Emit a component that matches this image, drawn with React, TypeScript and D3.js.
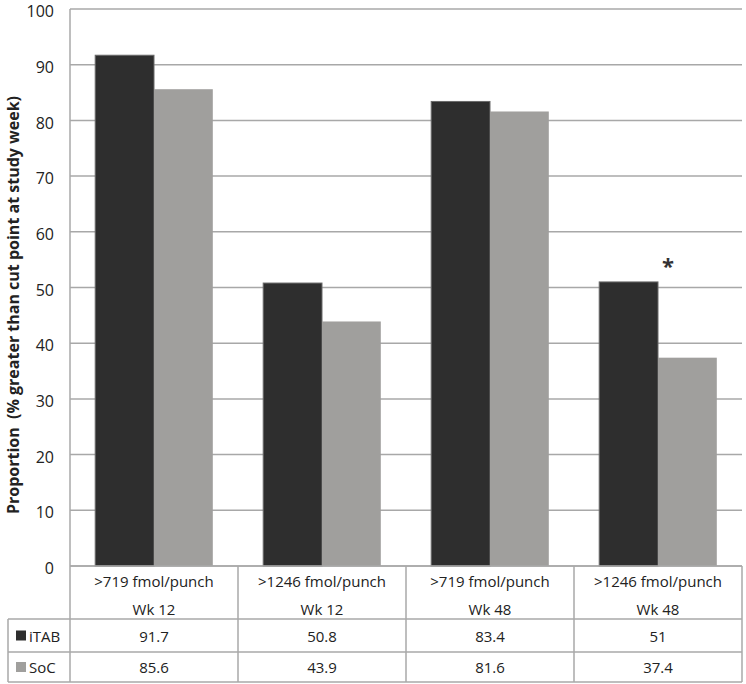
import React from "react";
import * as d3 from "d3";

const categories = [">719 fmol/punch", ">1246 fmol/punch", ">719 fmol/punch", ">1246 fmol/punch"];
const weeks = ["Wk 12", "Wk 12", "Wk 48", "Wk 48"];
const seriesNames = ["iTAB", "SoC"];
const iTAB = [91.7, 50.8, 83.4, 51];
const SoC = [85.6, 43.9, 81.6, 37.4];
const yTicks = [0, 10, 20, 30, 40, 50, 60, 70, 80, 90, 100];
const iTabLabels = ["91.7", "50.8", "83.4", "51"];
const socLabels = ["85.6", "43.9", "81.6", "37.4"];
const significant = [false, false, false, true];
const colors = ["#2e2e2e", "#a09f9d"];

const W = 746, H = 684;
const left = 70, right = 742, top = 9, bottom = 566;
const tableLeft = 8;
const row1 = 619, row2 = 652, row3 = 682;
const font = "'Open Sans', 'Liberation Sans', sans-serif";
const gridColor = "#a8a8a8";

export default function App() {
  const x = d3.scaleBand<number>().domain(d3.range(categories.length)).range([left, right]).paddingInner(0).paddingOuter(0);
  const barW = x.bandwidth() * 0.35;
  const off = x.bandwidth() * 0.15;
  const y = d3.scaleLinear().domain([0, 100]).range([bottom, top]);
  const series = [iTAB, SoC];
  const labels = [iTabLabels, socLabels];

  return (
    <svg width={W} height={H} style={{ position: "absolute", left: 0, top: 0, background: "#fff" }}>
      {yTicks.map((t) => (
        <line key={"g" + t} x1={left} x2={right} y1={y(t)} y2={y(t)} stroke={gridColor} strokeWidth={1.5} />
      ))}
      <line x1={left} x2={left} y1={top} y2={bottom} stroke={gridColor} strokeWidth={1.5} />
      {yTicks.map((t) => (
        <text key={"t" + t} x={54} y={y(t) + 2.5} dy="0.35em" textAnchor="end" fontFamily={font} fontSize={16} fill="#222">
          {t}
        </text>
      ))}
      {series.map((s, si) =>
        s.map((v, i) => {
          const bx = (x(i) as number) + off + si * barW;
          return (
            <rect key={`b${si}-${i}`} x={bx} y={y(v)} width={barW} height={y(0) - y(v)} fill={colors[si]}
              stroke={si === 0 ? "#6a6a6a" : "none"} strokeWidth={si === 0 ? 1 : 0} />
          );
        })
      )}
      {significant.map((sg, i) =>
        sg ? (
          <text key={"s" + i} x={(x(i) as number) + off + barW + 10} y={y(Math.max(iTAB[i], SoC[i])) - 8}
            textAnchor="middle" fontFamily={font} fontWeight="bold" fontSize={22} fill="#333">*</text>
        ) : null
      )}
      <text transform={`translate(13,305) rotate(-90)`} textAnchor="middle" dy="0.35em"
        fontFamily={font} fontWeight="bold" fontSize={16} fill="#222" style={{ whiteSpace: "pre" }}>
        {"Proportion  (% greater than cut point at study week)"}
      </text>
      <g stroke={gridColor} strokeWidth={1.5} fill="none">
        <line x1={left} x2={right} y1={bottom} y2={bottom} />
        <line x1={tableLeft} x2={right} y1={row1} y2={row1} />
        <line x1={tableLeft} x2={right} y1={row2} y2={row2} />
        <line x1={tableLeft} x2={right} y1={row3} y2={row3} />
        <line x1={tableLeft} x2={tableLeft} y1={row1} y2={row3} />
        {d3.range(categories.length + 1).map((i) => {
          const xx = i < categories.length ? (x(i) as number) : right;
          return <line key={"c" + i} x1={xx} x2={xx} y1={bottom} y2={row3} />;
        })}
      </g>
      {categories.map((c, i) => {
        const cx = (x(i) as number) + x.bandwidth() / 2;
        return (
          <g key={"h" + i} fontFamily={font} fontSize={15} fill="#222" textAnchor="middle">
            <text x={cx} y={582} dy="0.35em">{c}</text>
            <text x={cx} y={610} dy="0.35em">{weeks[i]}</text>
            <text x={cx} y={(row1 + row2) / 2 + 1} dy="0.35em">{labels[0][i]}</text>
            <text x={cx} y={(row2 + row3) / 2 + 1} dy="0.35em">{labels[1][i]}</text>
          </g>
        );
      })}
      {seriesNames.map((n, si) => {
        const yc = si === 0 ? (row1 + row2) / 2 : (row2 + row3) / 2;
        return (
          <g key={"l" + n}>
            <rect x={16} y={yc - 5} width={10} height={10} fill={colors[si]} />
            <text x={29} y={yc + 1} dy="0.35em" fontFamily={font} fontSize={15} fill="#222">{n}</text>
          </g>
        );
      })}
    </svg>
  );
}
